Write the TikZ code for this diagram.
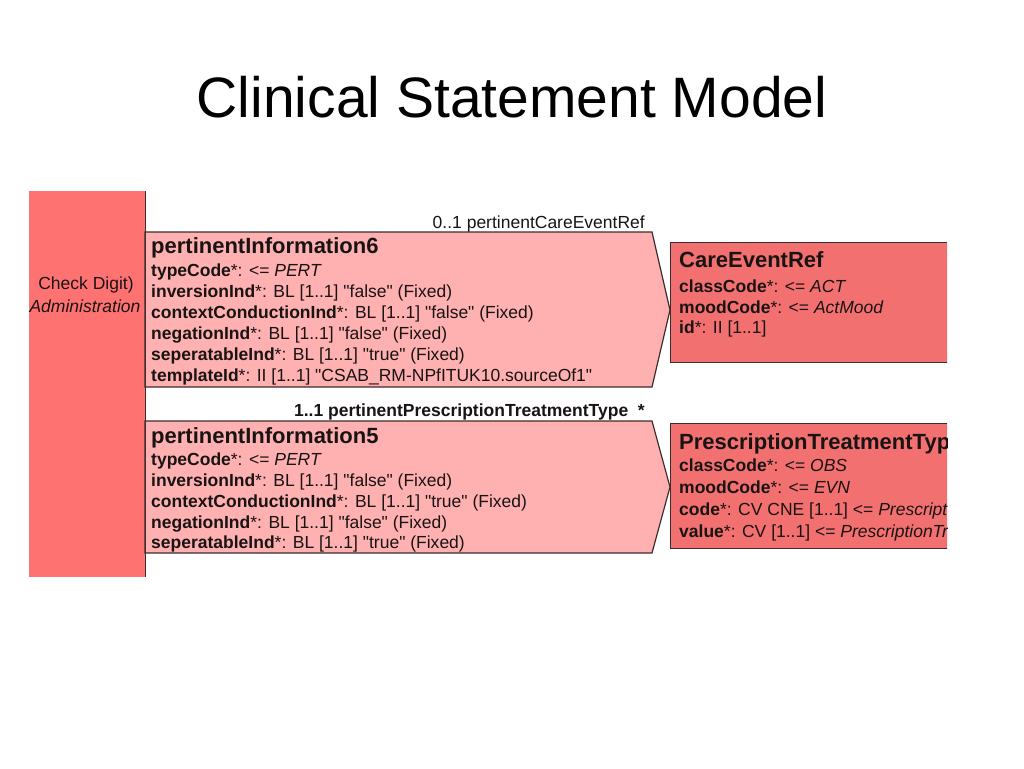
\documentclass[tikz,border=0pt]{standalone}
\usepackage{fontspec}
\setmainfont{Liberation Sans}
\usepackage{tikz}
\usetikzlibrary{positioning}

\definecolor{digitred}{RGB}{255,114,114}
\definecolor{assocpink}{RGB}{255,176,176}
\definecolor{classred}{RGB}{243,112,112}
\definecolor{edgegray}{RGB}{60,45,45}
\definecolor{inkgray}{RGB}{25,20,20}

\newcommand{\qv}[1]{\textquotedbl#1\textquotedbl}

\tikzset{
  field/.style={anchor=base west, inner sep=0pt, text=inkgray, font=\fontsize{17.5}{21}\selectfont},
  head/.style={anchor=base west, inner sep=0pt, text=inkgray, font=\fontsize{22}{25}\selectfont\bfseries},
  role/.style={anchor=base east, inner sep=0pt, text=inkgray, font=\fontsize{17.5}{21}\selectfont},
  classbox/.style={draw=edgegray, line width=1.2pt, fill=classred, anchor=north west, inner sep=0pt, minimum width=320pt},
  assoc/.style={draw=edgegray, line width=1.2pt, fill=assocpink}
}

\begin{document}
\begin{tikzpicture}[x=1pt, y=-1pt]
    \useasboundingbox (0,0) rectangle (1024,768);

    \node[font=\fontsize{57}{60}\selectfont] (title) at (512,97) {Clinical Statement Model};

    % left class
    \node[fill=digitred, anchor=north west, minimum width=116pt, minimum height=386pt, inner sep=0pt] (CD) at (29,191) {};
    \node[text=inkgray, font=\fontsize{17.5}{21}\selectfont] (CDname) at (86,285) {Check Digit)};
    \node[text=inkgray, font=\fontsize{17.5}{21}\selectfont\itshape] (CDsub) at (85,306) {Administration};

    % association pertinentInformation6
    \coordinate (A6nw) at (145,232);
    \coordinate (A6ne) at (652,232);
    \coordinate (A6tip) at (670,310);
    \coordinate (A6se) at (652,387);
    \coordinate (A6sw) at (145,387);
    \draw[assoc] (A6sw) -- (A6nw) -- (A6ne) -- (A6tip) -- (A6se) -- cycle;
    \node[role] (R6) at (645,228) {0..1 pertinentCareEventRef};
    \node[head] (PI6) at (151,253) {pertinentInformation6};
    \node[field] (PI6a) at (151,276) {\textbf{typeCode}*: <= \textit{PERT}};
    \node[field] (PI6b) at (151,297) {\textbf{inversionInd}*: BL [1..1] \qv{false} (Fixed)};
    \node[field] (PI6c) at (151,318) {\textbf{contextConductionInd}*: BL [1..1] \qv{false} (Fixed)};
    \node[field] (PI6d) at (151,339) {\textbf{negationInd}*: BL [1..1] \qv{false} (Fixed)};
    \node[field] (PI6e) at (151,360) {\textbf{seperatableInd}*: BL [1..1] \qv{true} (Fixed)};
    \node[field] (PI6f) at (151,381) {\textbf{templateId}*: II [1..1] \qv{CSAB\_RM-NPfITUK10.sourceOf1}};

    % association pertinentInformation5
    \coordinate (A5nw) at (145,421);
    \coordinate (A5ne) at (652,421);
    \coordinate (A5tip) at (670,487);
    \coordinate (A5se) at (652,553);
    \coordinate (A5sw) at (145,553);
    \draw[assoc] (A5sw) -- (A5nw) -- (A5ne) -- (A5tip) -- (A5se) -- cycle;
    \node[role, font=\fontsize{17.5}{21}\selectfont\bfseries] (R5) at (645,416) {1..1 pertinentPrescriptionTreatmentType~~*};
    \node[head] (PI5) at (151,443) {pertinentInformation5};
    \node[field] (PI5a) at (151,465) {\textbf{typeCode}*: <= \textit{PERT}};
    \node[field] (PI5b) at (151,486) {\textbf{inversionInd}*: BL [1..1] \qv{false} (Fixed)};
    \node[field] (PI5c) at (151,507) {\textbf{contextConductionInd}*: BL [1..1] \qv{true} (Fixed)};
    \node[field] (PI5d) at (151,528) {\textbf{negationInd}*: BL [1..1] \qv{false} (Fixed)};
    \node[field] (PI5e) at (151,548) {\textbf{seperatableInd}*: BL [1..1] \qv{true} (Fixed)};

    \draw[edgegray, line width=1.5pt] (CD.north east) -- (CD.south east);

    % target classes, cut off at the right
    \begin{scope}
    \clip (0,0) rectangle (947,768);
    \node[classbox, minimum height=120pt] (CER) at (670,242) {};
    \node[head] (CERn) at (679,267) {CareEventRef};
    \node[field] (CERa) at (679,292) {\textbf{classCode}*: <= \textit{ACT}};
    \node[field] (CERb) at (679,313) {\textbf{moodCode}*: <= \textit{ActMood}};
    \node[field] (CERc) at (679,333) {\textbf{id}*: II [1..1]};

    \node[classbox, minimum height=125pt] (PTT) at (670,423) {};
    \node[head] (PTTn) at (679,449) {PrescriptionTreatmentTyp};
    \node[field] (PTTa) at (679,471) {\textbf{classCode}*: <= \textit{OBS}};
    \node[field] (PTTb) at (679,493) {\textbf{moodCode}*: <= \textit{EVN}};
    \node[field] (PTTc) at (679,515) {\textbf{code}*: CV CNE [1..1] <= \textit{Prescript}};
    \node[field] (PTTd) at (679,537) {\textbf{value}*: CV [1..1] <= \textit{PrescriptionTr}};
    \end{scope}

\end{tikzpicture}
\end{document}
